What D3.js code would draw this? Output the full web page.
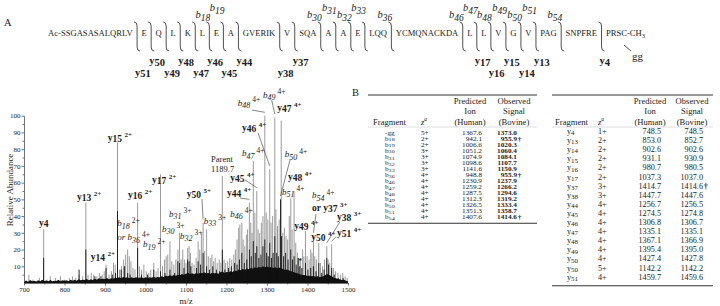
<!DOCTYPE html>
<html>
<head>
<meta charset="utf-8">
<script src="https://cdn.jsdelivr.net/npm/d3@7"></script>
<style>
  body { margin: 0; background: #fff; }
  svg { display: block; }
  text { font-family: "Liberation Serif", "DejaVu Serif", serif; fill: #1a1a1a; }
</style>
</head>
<body>
<div id="fig"></div>
<script>
// ---------- data ----------
// panel A: peptide, split at the observed cleavage sites
const segments = ["Ac-SSGASASALQRLV", "E", "Q", "L", "K", "L", "E", "A", "GVERIK", "V", "SQA", "A", "A", "E",
  "LQQ", "YCMQNACKDA", "L", "L", "V", "G", "V", "PAG", "SNPFRE", "PRSC-CH"];
const bIons = [18, 19, 30, 31, 32, 33, 36, 46, 47, 48, 49, 50, 51, 54];
const bTier = [0, 1, 0, 1, 0, 1, 0, 0, 1, 0, 1, 0, 1, 0];
const yIons = [51, 50, 49, 48, 47, 46, 45, 44, 38, 37, 17, 16, 15, 14, 13, 4];
const yTier = [1, 0, 1, 0, 1, 0, 1, 0, 1, 0, 0, 1, 0, 1, 0, 0];

// spectrum: [m/z, relative abundance]
const grayPeaks = [[712,5],[722,2],[738,3],[748.5,32],[757,2],[765,4],[778,3],[790,4],[800,2],[812,3],[820,4],[828,3],
  [836,5],[845,4],[852.7,48],[858,5],[866,6],[872,5],[880,4],[886,6],[893,5],[898,7],[902.6,11],[910,5],[916,7],
  [921,12],[925,11],[930.9,84],[936,8],[941,10],[946,14],[951,17],[955.9,20],[960,16],[964,13],[969,9],[974,8],
  [980.5,48],[985,10],[990,8],[996,11],[1002,7],[1008,6],[1013,8],[1020.3,12],[1026,7],[1031,9],[1037,65],[1042,10],
  [1047,14],[1051,16],[1055,17],[1060.4,25],[1065,13],[1070,11],[1075,14],[1080,20],[1084.1,30],[1088,14],[1092,20],
  [1096,14],[1100,12],[1104,21],[1107.7,22],[1111,18],[1115,12],[1120,11],[1125,15],[1130,25],[1134,20],[1138,30],
  [1142.2,36],[1146,19],[1150.9,32],[1155,16],[1160,15],[1164,17],[1168,13],[1172,15],[1177,12],[1182,14],[1186,12],
  [1189.7,64],[1194,14],[1198,12],[1203,13],[1208,15],[1213,14],[1218,17],[1222,20],[1226,26],[1230,33],[1233,35],
  [1237.9,36],[1241,26],[1245,22],[1249,29],[1252,32],[1256.5,48],[1260,36],[1263,30],[1266.2,73],[1270,42],
  [1274.8,55],[1278,32],[1282,30],[1286,36],[1290,40],[1294.6,100],[1298,42],[1302,38],[1306.7,68],[1310,36],
  [1314,40],[1319.2,99],[1322,44],[1326,34],[1330,38],[1335.1,97],[1339,30],[1343,33],[1347,28],[1351,26],[1355,40],
  [1358.7,51],[1362,32],[1366.9,55],[1371,24],[1375,18],[1379,14],[1383,15],[1388,20],[1391,16],[1395,31],[1399,16],
  [1404,14],[1408,20],[1411,18],[1414.6,28],[1418,16],[1422,14],[1427.8,24],[1432,12],[1437,10],[1442,14],
  [1447.6,22],[1451,14],[1455,12],[1459.6,23],[1464,9],[1469,7],[1475,6],[1481,5],[1487,6],[1493,4],[1498,3]];

const blackPeaks = [[748.5,15],[836,8],[852.7,20],[875,4],[890,4],[902.6,9],[918,5],[926,6],[930.9,43],[940,8],
  [948,10],[956,6],[962,5],[980.5,21],[990,5],[1005,5],[1020.3,8],[1037,7],[1048,6],[1060.4,8],[1072,6],[1080,13],
  [1084.1,12],[1095,9],[1104,14],[1107.7,13],[1112,10],[1126,9],[1130,13],[1136,11],[1142.2,18],[1150.9,10],
  [1158,8],[1166,10],[1175,8],[1183,7],[1189.7,20],[1196,8],[1205,9],[1212,10],[1220,12],[1226,11],[1232,14],
  [1237.9,18],[1244,12],[1250,14],[1256.5,20],[1261,16],[1266.2,25],[1271,18],[1274.8,22],[1280,15],[1285,17],
  [1290,22],[1294.6,26],[1299,18],[1303,16],[1306.7,24],[1311,15],[1315,18],[1319.2,28],[1324,18],[1328,16],
  [1333.4,50],[1336,28],[1341,16],[1346,18],[1352,14],[1358.7,20],[1363,14],[1366.9,16],[1372,11],[1377,15],
  [1381,10],[1386,9],[1395,12],[1401,8],[1408,9],[1414.6,10],[1421,7],[1427.8,12],[1435,6],[1441,8],[1447.6,15],
  [1452,11],[1459.6,9],[1466,5],[1476,3],[1488,3]];

// dense low-level signal along the baseline
const baseNoise = [[700,.6],[705,1.5],[710,.8],[715,1.8],[720,1],[725,1.4],[730,.9],[735,1.6],[740,1.1],[745,2],
  [750,1.2],[755,1.5],[760,1],[765,1.8],[770,1.1],[775,1.4],[780,1.2],[785,1.9],[790,1],[795,1.6],[800,1.3],
  [805,1.7],[810,1.1],[815,1.9],[820,1.4],[825,2],[830,1.3],[835,2.2],[840,1.6],[845,2],[850,1.8],[855,2.4],
  [860,1.7],[865,2.2],[870,1.8],[875,2.6],[880,2],[885,2.8],[890,2.2],[895,2.5],[900,2.4],[905,3],[910,2.3],
  [915,2.8],[920,2.6],[925,3.2],[930,3],[935,3.4],[940,2.8],[945,3.6],[950,3.2],[955,3.4],[960,2.9],[965,3.5],
  [970,3],[975,3.3],[980,3.4],[985,3],[990,3.6],[995,2.9],[1000,3.4],[1005,3],[1010,3.5],[1015,3.1],[1020,3.8],
  [1025,3.2],[1030,3.6],[1035,3.4],[1040,4],[1045,3.6],[1050,4.4],[1055,4],[1060,4.6],[1065,4.2],[1070,4.8],
  [1075,4.4],[1080,5],[1085,4.6],[1090,5.4],[1095,5],[1100,5.6],[1105,6],[1110,5.4],[1115,5.8],[1120,5.2],
  [1125,6],[1130,5.6],[1135,6.2],[1140,5.8],[1145,6.4],[1150,5.8],[1155,6],[1160,5.6],[1165,6.2],[1170,5.8],
  [1175,6],[1180,5.6],[1185,6.4],[1190,6.8],[1195,6],[1200,6.6],[1205,6.4],[1210,7],[1215,6.6],[1220,7.4],
  [1225,7],[1230,8],[1235,7.6],[1240,8.4],[1245,7.8],[1250,8.6],[1255,8.2],[1260,9],[1265,8.6],[1270,9.4],
  [1275,9],[1280,9.6],[1285,9.2],[1290,10],[1295,9.4],[1300,9.8],[1305,9.2],[1310,9.6],[1315,9],[1320,9.4],
  [1325,8.8],[1330,9.2],[1335,8.6],[1340,8.4],[1345,7.8],[1350,8],[1355,7.4],[1360,7],[1365,6.6],[1370,6.2],
  [1375,5.8],[1380,5.4],[1385,5],[1390,4.8],[1395,4.6],[1400,4.2],[1405,4.4],[1410,4],[1415,4.2],[1420,3.8],
  [1425,4],[1430,3.6],[1435,3.8],[1440,4.2],[1445,5],[1450,5.4],[1455,4.6],[1460,4],[1465,3.2],[1470,2.8],
  [1475,2.4],[1480,2.2],[1485,1.8],[1490,2],[1495,1.4],[1500,1]];

const xTicks = [700, 800, 900, 1000, 1100, 1200, 1300, 1400, 1500];
const yTicks = [10, 20, 30, 40, 50, 60, 70, 80, 90, 100];

// peak annotations: label anchor in (m/z, abundance); lead = [m/z, abundance, target peak m/z]
const specLabels = [
  {ion: "y4", mz: 737, a: 34},
  {ion: "y13", z: "2+", mz: 831, a: 49.6},
  {ion: "y15", z: "2+", mz: 907, a: 84.9},
  {ion: "y14", z: "2+", mz: 865, a: 13.7},
  {ion: "y16", z: "2+", mz: 957, a: 50.8},
  {ion: "y17", z: "2+", mz: 1016, a: 59.8},
  {ion: "b18", z: "2+", mz: 930, a: 34},
  {pre: "or ", ion: "b36", z: "4+", mz: 930, a: 25.7},
  {ion: "b19", z: "2+", mz: 994, a: 21.5},
  {ion: "b30", z: "3+", mz: 1041, a: 30.5},
  {ion: "b31", z: "3+", mz: 1058, a: 39.5},
  {ion: "b32", z: "3+", mz: 1085, a: 26.5},
  {ion: "b33", z: "3+", mz: 1144, a: 35.3},
  {ion: "y50", z: "5+", mz: 1102, a: 51.4, lead: [1139.5, 50.2, 1142.2]},
  {ion: "y45", z: "4+", mz: 1209, a: 61, lead: [1245.7, 61.6, 1274.8]},
  {ion: "y44", z: "4+", mz: 1201, a: 52, lead: [1233.3, 50.8, 1256.5]},
  {ion: "b46", z: "4+", mz: 1209, a: 39.5},
  {ion: "b48", z: "4+", mz: 1228, a: 105.8, lead: [1263, 103.4, 1294.6]},
  {ion: "b49", z: "4+", mz: 1290, a: 110.6, lead: [1311.6, 109.4, 1319.2]},
  {ion: "y47", z: "4+", mz: 1325, a: 102.8},
  {ion: "y46", z: "4+", mz: 1238, a: 90.9, lead: [1277.8, 89.7, 1306.7]},
  {ion: "b47", z: "4+", mz: 1238, a: 75.9},
  {ion: "b50", z: "4+", mz: 1344, a: 75.3, lead: [1356.8, 73.5, 1333.4]},
  {ion: "y48", z: "4+", mz: 1352, a: 61.5},
  {ion: "b51", z: "4+", mz: 1337, a: 52.8},
  {ion: "b54", z: "4+", mz: 1411, a: 50.8},
  {pre: "or ", ion: "y37", z: "3+", mz: 1411, a: 43, lead: [1421, 41.2, 1414.6]},
  {ion: "y38", z: "3+", mz: 1473, a: 37.7, lead: [1480, 36.5, 1447.6]},
  {ion: "y49", z: "4+", mz: 1367, a: 32.3},
  {ion: "y50", z: "4+", mz: 1409, a: 25.7},
  {ion: "y51", z: "4+", mz: 1473, a: 28, lead: [1470, 27.5, 1459.6]}
];
const parentMz = 1189.7;

// panel B tables
const t1Frag = ["-gg","b18","b19","b30","b31","b32","b33","b36","b46","b47","b48","b49","b50","b51","b54"];
const t1Z = ["5+","2+","2+","3+","3+","3+","3+","4+","4+","4+","4+","4+","4+","4+","4+"];
const t1Pred = ["1367.6","942.1","1006.6","1051.2","1074.9","1098.6","1141.6","948.8","1230.9","1259.2","1287.5","1312.3","1326.5","1351.3","1407.6"];
const t1Obs = ["1373.0","955.9†","1020.3","1060.4","1084.1","1107.7","1150.9","955.9†","1237.9","1266.2","1294.6","1319.2","1333.4","1358.7","1414.6†"];
const t2Frag = ["y4","y13","y14","y15","y16","y17","y37","y38","y44","y45","y46","y47","y48","y49","y50","y50","y51"];
const t2Z = ["1+","2+","2+","2+","2+","2+","3+","3+","4+","4+","4+","4+","4+","4+","4+","5+","4+"];
const t2Pred = ["748.5","853.0","902.6","931.1","980.7","1037.3","1414.7","1447.7","1256.7","1274.5","1306.8","1335.1","1367.1","1395.4","1427.4","1142.2","1459.7"];
const t2Obs = ["748.5","852.7","902.6","930.9","980.5","1037.0","1414.6†","1447.6","1256.5","1274.8","1306.7","1335.1","1366.9","1395.0","1427.8","1142.2","1459.6"];

// ---------- drawing ----------
const svg = d3.select("#fig").append("svg").attr("width", 720).attr("height", 306);

// ===== Panel A =====
svg.append("text").attr("x", 4).attr("y", 26).attr("font-size", 10.5).text("A");

const gA = svg.append("g");
const seqFont = 8.6, seqY = 36, seqLeft = 48, seqRight = 645;

function seqText(g, s, x) {
  const t = g.append("text").attr("x", x).attr("y", seqY).attr("font-size", seqFont).text(s);
  if (s.endsWith("-CH")) t.append("tspan").attr("font-size", 6.5).attr("dy", 2).text("3");
  return t;
}
const widths = segments.map(s => { const t = seqText(gA, s, 0); const w = t.node().getComputedTextLength(); t.remove(); return w; });
const gap = (seqRight - seqLeft - d3.sum(widths)) / (segments.length - 1);

let cursor = seqLeft, residues = 0;
const cuts = [];
segments.forEach((s, i) => {
  seqText(gA, s, cursor);
  residues += s.replace("Ac-", "").replace("-CH", "").length;
  if (i < segments.length - 1) cuts.push({x: cursor + widths[i] + gap / 2, n: residues});
  cursor += widths[i] + gap;
});
const lastStart = cursor - gap - widths[widths.length - 1];
const totalRes = residues;

// cleavage brackets
const bTop = 22, bBot = 51;
gA.selectAll("path.cut").data(cuts).enter().append("path")
  .attr("d", d => `M${d.x - 3},${bTop} Q${d.x},${bTop} ${d.x},${bTop + 4} L${d.x},${bBot - 4} Q${d.x},${bBot} ${d.x + 3},${bBot}`)
  .attr("fill", "none").attr("stroke", "#222").attr("stroke-width", 0.8);

// b ions above
bIons.forEach((n, i) => {
  const c = cuts.find(d => d.n === n);
  const base = bTier[i] ? 11 : 18;
  const t = gA.append("text").attr("x", c.x + 1).attr("y", base).attr("text-anchor", "end").attr("font-size", 10.5);
  t.append("tspan").attr("font-style", "italic").text("b");
  t.append("tspan").attr("font-size", 9.5).attr("font-style", "italic").attr("dy", 3).text(n);
});
// y ions below
yIons.forEach((n, i) => {
  const c = cuts.find(d => d.n === totalRes - n);
  const base = yTier[i] ? 75.5 : 64;
  const t = gA.append("text").attr("x", c.x - 2).attr("y", base).attr("font-size", 10.5).attr("font-weight", "bold");
  t.append("tspan").text("y");
  t.append("tspan").attr("dy", 1.5).text(n);
});
// geranylgeranyl tag on the C-terminal cysteine
const prscW = (() => { const t = gA.append("text").attr("font-size", seqFont).text("PRSC"); const w = t.node().getComputedTextLength(); t.remove(); return w; })();
gA.append("line").attr("x1", lastStart + prscW - 3).attr("y1", seqY + 9).attr("x2", lastStart + prscW + 4).attr("y2", seqY + 15)
  .attr("stroke", "#222").attr("stroke-width", 0.8);
gA.append("text").attr("x", lastStart + prscW + 5).attr("y", seqY + 24).attr("font-size", 11).text("gg");

// ===== Spectrum =====
const x = d3.scaleLinear().domain([700, 1500]).range([24, 348]);
const y = d3.scaleLinear().domain([0, 100]).range([283, 115.7]);
const gS = svg.append("g");

gS.selectAll("line.gp").data(grayPeaks).enter().append("line")
  .attr("x1", d => x(d[0])).attr("x2", d => x(d[0]))
  .attr("y1", y(0)).attr("y2", d => y(d[1]))
  .attr("stroke", "#8e8e8e").attr("stroke-width", 0.9);

gS.append("path").datum(baseNoise)
  .attr("d", d3.area().x(d => x(d[0])).y0(y(0)).y1(d => y(d[1])))
  .attr("fill", "#111");

gS.selectAll("line.bp").data(blackPeaks).enter().append("line")
  .attr("x1", d => x(d[0])).attr("x2", d => x(d[0]))
  .attr("y1", y(0)).attr("y2", d => y(d[1]))
  .attr("stroke", "#111").attr("stroke-width", 0.9);

// axes
const yAxis = gS.append("g").attr("transform", `translate(${x(700)},0)`)
  .call(d3.axisLeft(y).tickValues(yTicks).tickSize(2.5).tickSizeOuter(0).tickFormat(d3.format("d")));
const yMinor = gS.append("g").attr("transform", `translate(${x(700)},0)`)
  .call(d3.axisLeft(y).tickValues([5, 15, 25, 35, 45, 55, 65, 75, 85, 95]).tickSize(1.5).tickSizeOuter(0).tickFormat(""));
yMinor.select(".domain").remove();
const xAxis = gS.append("g").attr("transform", `translate(0,${y(0)})`)
  .call(d3.axisBottom(x).tickValues(xTicks).tickSize(2.5).tickSizeOuter(0).tickFormat(d3.format("d")));
const xMinor = gS.append("g").attr("transform", `translate(0,${y(0)})`)
  .call(d3.axisBottom(x).tickValues([750, 850, 950, 1050, 1150, 1250, 1350, 1450]).tickSize(1.5).tickFormat(""));
xMinor.select(".domain").remove();
[yAxis, yMinor, xAxis, xMinor].forEach(a => {
  a.selectAll("path, line").attr("stroke", "#333").attr("stroke-width", 0.7);
  a.selectAll("text").attr("font-family", "'Liberation Serif','DejaVu Serif',serif").attr("font-size", 7).attr("fill", "#222");
});
yAxis.selectAll("text").attr("x", -3.5);
xAxis.selectAll("text").attr("y", 4);

svg.append("text").attr("transform", "translate(13,190) rotate(-90)").attr("text-anchor", "middle")
  .attr("font-size", 9).text("Relative Abundance");
svg.append("text").attr("x", 186).attr("y", 304).attr("text-anchor", "middle").attr("font-size", 9).text("m/z");

// peak labels
function ionLabel(g, d) {
  const isY = d.ion[0] === "y";
  const t = g.append("text").attr("x", x(d.mz)).attr("y", y(d.a));
  if (isY) {
    t.attr("font-weight", "bold").attr("font-size", 9.5);
    if (d.pre) t.append("tspan").text(d.pre);
    t.append("tspan").text("y");
    t.append("tspan").attr("dy", 1.2).text(d.ion.slice(1));
    if (d.z) t.append("tspan").attr("font-size", 7).attr("dx", 2.5).attr("dy", -5).text(d.z);
  } else {
    t.attr("font-size", 9);
    if (d.pre) t.append("tspan").attr("font-style", "italic").text(d.pre);
    t.append("tspan").attr("font-style", "italic").text("b");
    t.append("tspan").attr("font-style", "italic").attr("font-size", 8).attr("dy", 2.5).text(d.ion.slice(1));
    if (d.z) t.append("tspan").attr("font-size", 7.5).attr("dx", 2).attr("dy", -6).text(d.z);
  }
}
const peakTop = mz => {
  const g = grayPeaks.find(p => p[0] === mz), b = blackPeaks.find(p => p[0] === mz);
  return Math.max(g ? g[1] : 0, b ? b[1] : 0);
};
const gL = svg.append("g");
specLabels.forEach(d => {
  ionLabel(gL, d);
  if (d.lead) {
    const tx = d.lead[2];
    const b = blackPeaks.find(p => p[0] === tx);
    const top = (d.ion === "b50" && b) ? b[1] : peakTop(tx);
    gL.append("line").attr("x1", x(d.lead[0])).attr("y1", y(d.lead[1]))
      .attr("x2", x(tx)).attr("y2", y(top + 2))
      .attr("stroke", "#333").attr("stroke-width", 0.6);
  }
});
gL.append("text").attr("x", x(1162)).attr("y", y(72.3)).attr("font-size", 8.5).text("Parent");
gL.append("text").attr("x", x(1162)).attr("y", y(66.3)).attr("font-size", 8.5).text(parentMz.toFixed(1));
gL.append("text").attr("x", x(1376)).attr("y", y(11.5)).attr("font-size", 9).text("*");

// ===== Panel B =====
svg.append("text").attr("x", 352).attr("y", 96).attr("font-size", 10.5).text("B");

// cell text; sx widens the glyphs of the compact left table
function cell(g, xx, yy, size, sx, anchor) {
  return g.append("text").attr("transform", `translate(${xx},${yy}) scale(${sx},1)`)
    .attr("text-anchor", anchor || "start").attr("font-size", size);
}
function fragText(g, xx, yy, s, size, sx) {
  const t = cell(g, xx, yy, size, sx);
  if (s[0] === "-") { t.text(s); return; }
  t.append("tspan").text(s[0]);
  t.append("tspan").attr("font-size", size * 0.85).attr("dy", size * 0.15).text(s.slice(1));
}

function table(cfg) {
  const g = svg.append("g");
  g.append("line").attr("x1", cfg.x0).attr("x2", cfg.x1).attr("y1", 95).attr("y2", 95).attr("stroke", "#333").attr("stroke-width", 1);
  g.append("line").attr("x1", cfg.x0).attr("x2", cfg.x1).attr("y1", 127).attr("y2", 127).attr("stroke", "#bbb").attr("stroke-width", 0.5);
  const hs = 8.6;
  g.append("text").attr("x", cfg.fragHead).attr("y", 124.5).attr("font-size", hs).text("Fragment");
  const zt = g.append("text").attr("x", cfg.zX).attr("y", 124.5).attr("font-size", hs);
  zt.append("tspan").attr("font-style", "italic").text("z");
  zt.append("tspan").attr("font-size", 5.5).attr("dy", -3.5).attr("font-style", "italic").text("a");
  [["Predicted", "Ion", "(Human)", cfg.predHead], ["Observed", "Signal", "(Bovine)", cfg.obsHead]].forEach(h => {
    [104, 114, 124.5].forEach((yy, k) => g.append("text").attr("x", h[3]).attr("y", yy)
      .attr("text-anchor", "middle").attr("font-size", hs).text(h[k]));
  });
  cfg.frag.forEach((f, i) => {
    const yy = cfg.row0 + i * cfg.step;
    fragText(g, cfg.fragX, yy, f, cfg.fs, cfg.sx);
    cell(g, cfg.zX, yy, cfg.fs, cfg.sx).text(cfg.z[i]);
    cell(g, cfg.predX, yy, cfg.fs, cfg.sx, "end").text(cfg.pred[i]);
    const v = cfg.obs[i].replace("†", "");
    cell(g, cfg.obsX, yy, cfg.fs, cfg.sx, "end").attr("font-weight", cfg.bold ? "bold" : "normal").text(v);
    if (cfg.obs[i].includes("†")) cell(g, cfg.obsX + 0.8, yy, cfg.fs, cfg.sx).attr("font-weight", "bold").text("†");
  });
  const bottom = cfg.row0 + (cfg.frag.length - 1) * cfg.step + cfg.fs * 0.75;
  g.append("line").attr("x1", cfg.x0).attr("x2", cfg.x1).attr("y1", bottom).attr("y2", bottom).attr("stroke", "#333").attr("stroke-width", 1);
}

table({x0: 368, x1: 537, fragHead: 373, fragX: 385, zX: 421, predHead: 470, obsHead: 514, predX: 482, obsX: 517,
  row0: 134.5, step: 6.03, fs: 5.8, sx: 1.25, bold: true, frag: t1Frag, z: t1Z, pred: t1Pred, obs: t1Obs});
table({x0: 552, x1: 713, fragHead: 555, fragX: 567, zX: 598, predHead: 650, obsHead: 692, predX: 661, obsX: 703,
  row0: 134, step: 9.1, fs: 8.2, sx: 1, bold: false, frag: t2Frag, z: t2Z, pred: t2Pred, obs: t2Obs});
</script>
</body>
</html>
